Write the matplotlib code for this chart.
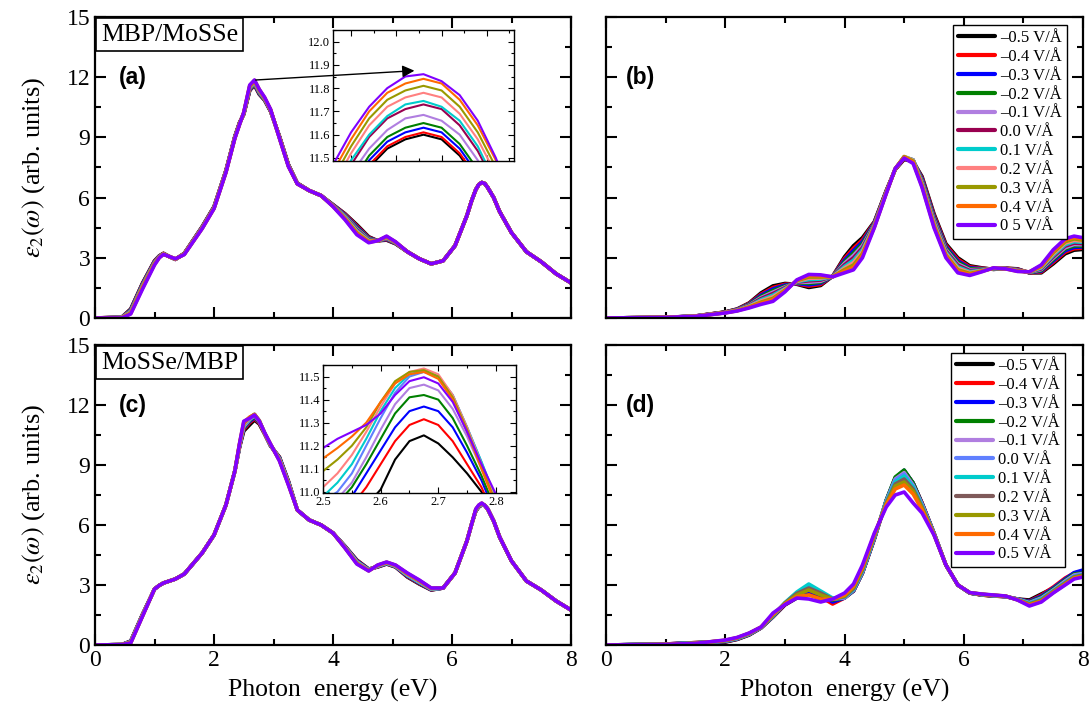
import matplotlib

matplotlib.use("Agg")
import matplotlib.pyplot as plt  # noqa: E402
import numpy as np  # noqa: E402
from matplotlib.ticker import MultipleLocator  # noqa: E402

plt.rcParams["font.family"] = ["Liberation Serif", "DejaVu Serif"]
plt.rcParams["mathtext.fontset"] = "stix"
plt.rcParams["lines.solid_joinstyle"] = "round"
plt.rcParams["lines.solid_capstyle"] = "round"

# field labels, one per curve (legend order)
labels_b = ["\u20130.5 V/\u00c5", "\u20130.4 V/\u00c5", "\u20130.3 V/\u00c5", "\u20130.2 V/\u00c5",
            "\u20130.1 V/\u00c5", "0.0 V/\u00c5", "0.1 V/\u00c5", "0.2 V/\u00c5", "0.3 V/\u00c5",
            "0.4 V/\u00c5", "0 5 V/\u00c5"]
labels_d = labels_b[:-1] + ["0.5 V/\u00c5"]

cols_b = ["#000000", "#ff0000", "#0000ff", "#008000", "#b07ee0", "#990050",
          "#00cccc", "#ff8080", "#999900", "#ff6a00", "#8000ff"]
cols_c = ["#000000", "#ff0000", "#0000ff", "#008000", "#b07ee0", "#6080ff",
          "#00cccc", "#ff8080", "#999900", "#ff6a00", "#8000ff"]
cols_d = ["#000000", "#ff0000", "#0000ff", "#008000", "#b07ee0", "#6080ff",
          "#00cccc", "#7f5a5a", "#999900", "#ff6a00", "#8000ff"]

# ---- left column (a), (c): one row per energy, one column per field ----
E_L = [0.0, 0.45, 0.6, 0.8, 1.0, 1.08, 1.15, 1.25, 1.35, 1.5, 1.8, 2.0, 2.2, 2.35, 2.43,
       2.5, 2.6, 2.68, 2.76, 2.85, 2.95, 3.1, 3.25, 3.4, 3.6, 3.8, 4.0, 4.2, 4.4, 4.6,
       4.75, 4.9, 5.05, 5.25, 5.45, 5.65, 5.85, 6.05, 6.25, 6.33, 6.4, 6.45, 6.5, 6.55,
       6.6, 6.7, 6.8, 7.0, 7.25, 7.5, 7.75, 8.0]

eps2_a = [
    [0.00, 0.00, 0.00, 0.00, 0.00, 0.00, 0.00, 0.00, 0.00, 0.00, 0.00],
    [0.04, 0.04, 0.03, 0.03, 0.03, 0.02, 0.02, 0.02, 0.01, 0.01, 0.00],
    [0.45, 0.43, 0.41, 0.39, 0.36, 0.33, 0.31, 0.28, 0.25, 0.22, 0.20],
    [1.75, 1.73, 1.71, 1.69, 1.66, 1.63, 1.60, 1.57, 1.54, 1.50, 1.45],
    [2.85, 2.84, 2.82, 2.80, 2.78, 2.76, 2.74, 2.72, 2.70, 2.67, 2.64],
    [3.10, 3.09, 3.08, 3.07, 3.06, 3.05, 3.04, 3.03, 3.02, 3.01, 3.00],
    [3.22, 3.22, 3.21, 3.21, 3.20, 3.20, 3.19, 3.19, 3.18, 3.18, 3.17],
    [3.06, 3.06, 3.06, 3.06, 3.06, 3.06, 3.06, 3.06, 3.06, 3.06, 3.06],
    [2.92, 2.92, 2.92, 2.93, 2.93, 2.93, 2.93, 2.94, 2.94, 2.94, 2.95],
    [3.22, 3.22, 3.21, 3.21, 3.20, 3.20, 3.19, 3.19, 3.18, 3.17, 3.16],
    [4.55, 4.54, 4.53, 4.52, 4.51, 4.50, 4.49, 4.48, 4.47, 4.46, 4.45],
    [5.55, 5.54, 5.53, 5.52, 5.51, 5.50, 5.49, 5.48, 5.47, 5.46, 5.45],
    [7.35, 7.34, 7.33, 7.32, 7.31, 7.30, 7.29, 7.28, 7.27, 7.26, 7.25],
    [9.05, 9.04, 9.03, 9.02, 9.01, 9.00, 8.99, 8.98, 8.97, 8.96, 8.95],
    [9.75, 9.74, 9.73, 9.72, 9.71, 9.70, 9.69, 9.68, 9.67, 9.66, 9.65],
    [10.15, 10.16, 10.17, 10.18, 10.19, 10.20, 10.21, 10.22, 10.23, 10.24, 10.25],
    [11.34, 11.35, 11.37, 11.39, 11.43, 11.47, 11.49, 11.52, 11.55, 11.58, 11.61],
    [11.60, 11.61, 11.63, 11.65, 11.69, 11.73, 11.75, 11.78, 11.81, 11.84, 11.86],
    [11.15, 11.16, 11.18, 11.20, 11.24, 11.28, 11.30, 11.33, 11.36, 11.39, 11.40],
    [10.85, 10.86, 10.87, 10.88, 10.90, 10.92, 10.93, 10.95, 10.96, 10.98, 11.00],
    [10.30, 10.31, 10.32, 10.33, 10.34, 10.35, 10.36, 10.37, 10.38, 10.39, 10.40],
    [9.05, 9.04, 9.03, 9.02, 9.01, 9.00, 8.99, 8.98, 8.97, 8.96, 8.95],
    [7.65, 7.64, 7.63, 7.62, 7.61, 7.60, 7.59, 7.58, 7.57, 7.56, 7.55],
    [6.72, 6.72, 6.71, 6.71, 6.70, 6.70, 6.70, 6.69, 6.69, 6.68, 6.68],
    [6.35, 6.35, 6.35, 6.35, 6.35, 6.35, 6.35, 6.35, 6.35, 6.35, 6.35],
    [6.10, 6.10, 6.10, 6.10, 6.10, 6.10, 6.10, 6.10, 6.10, 6.10, 6.10],
    [5.65, 5.64, 5.63, 5.62, 5.61, 5.60, 5.59, 5.58, 5.57, 5.56, 5.55],
    [5.20, 5.18, 5.15, 5.12, 5.10, 5.07, 5.04, 5.00, 4.97, 4.93, 4.90],
    [4.65, 4.60, 4.55, 4.50, 4.45, 4.40, 4.35, 4.30, 4.25, 4.20, 4.15],
    [4.05, 4.02, 3.99, 3.96, 3.93, 3.90, 3.87, 3.84, 3.81, 3.78, 3.75],
    [3.85, 3.85, 3.85, 3.85, 3.85, 3.85, 3.85, 3.85, 3.85, 3.85, 3.85],
    [3.88, 3.90, 3.92, 3.94, 3.96, 3.98, 4.00, 4.02, 4.04, 4.06, 4.08],
    [3.70, 3.71, 3.72, 3.73, 3.74, 3.75, 3.76, 3.77, 3.78, 3.79, 3.80],
    [3.30, 3.30, 3.30, 3.30, 3.30, 3.30, 3.30, 3.30, 3.30, 3.30, 3.30],
    [2.95, 2.95, 2.95, 2.95, 2.95, 2.95, 2.95, 2.95, 2.95, 2.95, 2.95],
    [2.70, 2.70, 2.70, 2.70, 2.70, 2.70, 2.70, 2.70, 2.70, 2.70, 2.70],
    [2.85, 2.85, 2.85, 2.85, 2.85, 2.85, 2.85, 2.85, 2.85, 2.85, 2.85],
    [3.60, 3.60, 3.60, 3.60, 3.60, 3.60, 3.60, 3.60, 3.60, 3.60, 3.60],
    [5.10, 5.10, 5.10, 5.10, 5.10, 5.10, 5.10, 5.10, 5.10, 5.10, 5.10],
    [5.85, 5.85, 5.85, 5.85, 5.85, 5.85, 5.85, 5.85, 5.85, 5.85, 5.85],
    [6.40, 6.40, 6.40, 6.40, 6.40, 6.40, 6.40, 6.40, 6.40, 6.40, 6.40],
    [6.65, 6.65, 6.65, 6.65, 6.65, 6.65, 6.65, 6.65, 6.65, 6.65, 6.65],
    [6.75, 6.75, 6.75, 6.75, 6.75, 6.75, 6.75, 6.75, 6.75, 6.75, 6.75],
    [6.70, 6.70, 6.70, 6.70, 6.70, 6.70, 6.70, 6.70, 6.70, 6.70, 6.70],
    [6.50, 6.50, 6.50, 6.50, 6.50, 6.50, 6.50, 6.50, 6.50, 6.50, 6.50],
    [6.00, 6.00, 6.00, 6.00, 6.00, 6.00, 6.00, 6.00, 6.00, 6.00, 6.00],
    [5.30, 5.30, 5.30, 5.30, 5.30, 5.30, 5.30, 5.30, 5.30, 5.30, 5.30],
    [4.25, 4.25, 4.25, 4.25, 4.25, 4.25, 4.25, 4.25, 4.25, 4.25, 4.25],
    [3.30, 3.30, 3.30, 3.30, 3.30, 3.30, 3.30, 3.30, 3.30, 3.30, 3.30],
    [2.80, 2.80, 2.80, 2.80, 2.80, 2.80, 2.80, 2.80, 2.80, 2.80, 2.80],
    [2.20, 2.20, 2.20, 2.20, 2.20, 2.20, 2.20, 2.20, 2.20, 2.20, 2.20],
    [1.75, 1.75, 1.75, 1.75, 1.75, 1.75, 1.75, 1.75, 1.75, 1.75, 1.75],
]

eps2_c = [
    [0.00, 0.00, 0.00, 0.00, 0.00, 0.00, 0.00, 0.00, 0.00, 0.00, 0.00],
    [0.02, 0.02, 0.02, 0.02, 0.02, 0.02, 0.02, 0.02, 0.02, 0.02, 0.02],
    [0.20, 0.19, 0.18, 0.17, 0.16, 0.15, 0.14, 0.13, 0.12, 0.11, 0.10],
    [1.55, 1.54, 1.53, 1.52, 1.51, 1.50, 1.49, 1.48, 1.47, 1.46, 1.45],
    [2.80, 2.80, 2.80, 2.80, 2.80, 2.80, 2.80, 2.80, 2.80, 2.80, 2.80],
    [2.98, 2.98, 2.98, 2.98, 2.98, 2.98, 2.98, 2.98, 2.98, 2.98, 2.98],
    [3.10, 3.10, 3.10, 3.10, 3.10, 3.10, 3.10, 3.10, 3.10, 3.10, 3.10],
    [3.20, 3.20, 3.20, 3.20, 3.20, 3.20, 3.20, 3.20, 3.20, 3.20, 3.20],
    [3.30, 3.30, 3.30, 3.30, 3.30, 3.30, 3.30, 3.30, 3.30, 3.30, 3.30],
    [3.55, 3.55, 3.55, 3.55, 3.55, 3.55, 3.55, 3.55, 3.55, 3.55, 3.55],
    [4.60, 4.60, 4.60, 4.60, 4.60, 4.60, 4.60, 4.60, 4.60, 4.60, 4.60],
    [5.50, 5.50, 5.50, 5.50, 5.50, 5.50, 5.50, 5.50, 5.50, 5.50, 5.50],
    [7.00, 7.00, 7.00, 7.00, 7.00, 7.00, 7.00, 7.00, 7.00, 7.00, 7.00],
    [8.70, 8.70, 8.70, 8.70, 8.70, 8.70, 8.70, 8.70, 8.70, 8.70, 8.70],
    [9.90, 9.92, 9.94, 9.96, 9.98, 10.00, 10.02, 10.04, 10.06, 10.08, 10.10],
    [10.70, 10.78, 10.84, 10.88, 10.92, 10.96, 10.98, 11.02, 11.09, 11.15, 11.19],
    [11.01, 11.12, 11.18, 11.23, 11.27, 11.32, 11.35, 11.37, 11.39, 11.39, 11.34],
    [11.25, 11.32, 11.37, 11.42, 11.47, 11.52, 11.53, 11.54, 11.53, 11.52, 11.50],
    [11.05, 11.08, 11.12, 11.15, 11.18, 11.22, 11.22, 11.22, 11.21, 11.20, 11.20],
    [10.55, 10.56, 10.57, 10.58, 10.60, 10.60, 10.60, 10.60, 10.60, 10.60, 10.62],
    [9.95, 9.96, 9.97, 9.98, 9.99, 10.00, 10.01, 10.02, 10.03, 10.04, 10.05],
    [9.40, 9.38, 9.36, 9.34, 9.32, 9.30, 9.28, 9.26, 9.24, 9.22, 9.20],
    [8.20, 8.18, 8.16, 8.14, 8.12, 8.10, 8.08, 8.06, 8.04, 8.02, 8.00],
    [6.75, 6.75, 6.75, 6.75, 6.75, 6.75, 6.75, 6.75, 6.75, 6.75, 6.75],
    [6.25, 6.25, 6.25, 6.25, 6.25, 6.25, 6.25, 6.25, 6.25, 6.25, 6.25],
    [6.00, 6.00, 6.00, 6.00, 6.00, 6.00, 6.00, 6.00, 6.00, 6.00, 6.00],
    [5.60, 5.60, 5.60, 5.60, 5.60, 5.60, 5.60, 5.60, 5.60, 5.60, 5.60],
    [4.95, 4.94, 4.93, 4.92, 4.91, 4.90, 4.89, 4.88, 4.87, 4.86, 4.85],
    [4.25, 4.23, 4.21, 4.19, 4.17, 4.15, 4.13, 4.11, 4.09, 4.07, 4.05],
    [3.80, 3.79, 3.78, 3.77, 3.76, 3.75, 3.74, 3.73, 3.72, 3.71, 3.70],
    [3.90, 3.91, 3.92, 3.93, 3.94, 3.95, 3.96, 3.97, 3.98, 3.99, 4.00],
    [4.05, 4.06, 4.07, 4.08, 4.09, 4.10, 4.11, 4.12, 4.13, 4.14, 4.15],
    [3.90, 3.91, 3.92, 3.93, 3.94, 3.95, 3.96, 3.97, 3.98, 3.99, 4.00],
    [3.40, 3.42, 3.44, 3.46, 3.48, 3.50, 3.52, 3.54, 3.56, 3.58, 3.60],
    [3.05, 3.07, 3.09, 3.11, 3.13, 3.15, 3.17, 3.19, 3.21, 3.23, 3.25],
    [2.75, 2.76, 2.77, 2.78, 2.79, 2.80, 2.81, 2.82, 2.83, 2.84, 2.85],
    [2.85, 2.85, 2.85, 2.85, 2.85, 2.85, 2.85, 2.85, 2.85, 2.85, 2.85],
    [3.60, 3.60, 3.60, 3.60, 3.60, 3.60, 3.60, 3.60, 3.60, 3.60, 3.60],
    [5.20, 5.20, 5.20, 5.20, 5.20, 5.20, 5.20, 5.20, 5.20, 5.20, 5.20],
    [6.05, 6.05, 6.05, 6.05, 6.05, 6.05, 6.05, 6.05, 6.05, 6.05, 6.05],
    [6.70, 6.71, 6.72, 6.73, 6.74, 6.75, 6.76, 6.77, 6.78, 6.79, 6.80],
    [6.90, 6.91, 6.92, 6.93, 6.94, 6.95, 6.96, 6.97, 6.98, 6.99, 7.00],
    [7.00, 7.01, 7.02, 7.03, 7.04, 7.05, 7.06, 7.07, 7.08, 7.09, 7.10],
    [6.98, 6.98, 6.98, 6.98, 6.98, 6.98, 6.98, 6.98, 6.98, 6.98, 6.98],
    [6.80, 6.80, 6.80, 6.80, 6.80, 6.80, 6.80, 6.80, 6.80, 6.80, 6.80],
    [6.20, 6.20, 6.20, 6.20, 6.20, 6.20, 6.20, 6.20, 6.20, 6.20, 6.20],
    [5.40, 5.40, 5.40, 5.40, 5.40, 5.40, 5.40, 5.40, 5.40, 5.40, 5.40],
    [4.20, 4.20, 4.20, 4.20, 4.20, 4.20, 4.20, 4.20, 4.20, 4.20, 4.20],
    [3.20, 3.20, 3.20, 3.20, 3.20, 3.20, 3.20, 3.20, 3.20, 3.20, 3.20],
    [2.75, 2.75, 2.75, 2.75, 2.75, 2.75, 2.75, 2.75, 2.75, 2.75, 2.75],
    [2.20, 2.20, 2.20, 2.20, 2.20, 2.20, 2.20, 2.20, 2.20, 2.20, 2.20],
    [1.75, 1.75, 1.75, 1.75, 1.75, 1.75, 1.75, 1.75, 1.75, 1.75, 1.75],
]

# ---- right column (b), (d): one row per energy, one column per field ----
E_R = [0.0, 1.0, 1.5, 2.0, 2.2, 2.4, 2.6, 2.8, 3.0, 3.2, 3.4, 3.6, 3.8, 4.0, 4.15, 4.3,
       4.5, 4.7, 4.85, 5.0, 5.15, 5.3, 5.5, 5.7, 5.9, 6.1, 6.3, 6.5, 6.7, 6.9, 7.1, 7.3,
       7.5, 7.7, 7.85, 8.0]

eps2_b = [
    [0.00, 0.00, 0.00, 0.00, 0.00, 0.00, 0.00, 0.00, 0.00, 0.00, 0.00],
    [0.03, 0.03, 0.03, 0.03, 0.03, 0.03, 0.03, 0.03, 0.03, 0.03, 0.03],
    [0.10, 0.10, 0.10, 0.09, 0.09, 0.09, 0.09, 0.09, 0.08, 0.08, 0.08],
    [0.30, 0.30, 0.29, 0.29, 0.28, 0.28, 0.27, 0.27, 0.26, 0.26, 0.25],
    [0.45, 0.44, 0.43, 0.42, 0.41, 0.40, 0.39, 0.38, 0.37, 0.36, 0.35],
    [0.75, 0.73, 0.70, 0.68, 0.65, 0.63, 0.60, 0.58, 0.55, 0.53, 0.50],
    [1.25, 1.19, 1.14, 1.08, 1.02, 0.97, 0.91, 0.85, 0.79, 0.74, 0.68],
    [1.60, 1.52, 1.45, 1.37, 1.29, 1.22, 1.14, 1.06, 0.98, 0.91, 0.83],
    [1.72, 1.68, 1.64, 1.59, 1.55, 1.51, 1.47, 1.43, 1.38, 1.34, 1.30],
    [1.68, 1.70, 1.72, 1.75, 1.77, 1.79, 1.81, 1.83, 1.86, 1.88, 1.90],
    [1.52, 1.59, 1.65, 1.72, 1.78, 1.85, 1.91, 1.98, 2.04, 2.11, 2.17],
    [1.62, 1.67, 1.73, 1.78, 1.83, 1.89, 1.94, 1.99, 2.04, 2.10, 2.15],
    [2.08, 2.08, 2.07, 2.07, 2.07, 2.07, 2.06, 2.06, 2.06, 2.05, 2.05],
    [3.05, 2.97, 2.89, 2.81, 2.73, 2.65, 2.57, 2.49, 2.41, 2.33, 2.25],
    [3.60, 3.48, 3.36, 3.24, 3.12, 3.00, 2.88, 2.76, 2.64, 2.52, 2.40],
    [4.00, 3.90, 3.80, 3.70, 3.60, 3.50, 3.40, 3.30, 3.20, 3.10, 3.00],
    [4.80, 4.77, 4.74, 4.71, 4.68, 4.65, 4.62, 4.59, 4.56, 4.53, 4.50],
    [6.35, 6.34, 6.32, 6.31, 6.29, 6.28, 6.26, 6.25, 6.23, 6.22, 6.20],
    [7.40, 7.40, 7.41, 7.42, 7.42, 7.43, 7.43, 7.43, 7.44, 7.44, 7.45],
    [7.90, 7.93, 7.96, 7.98, 8.00, 8.02, 8.04, 8.05, 8.04, 8.01, 7.97],
    [7.80, 7.82, 7.84, 7.86, 7.87, 7.88, 7.88, 7.86, 7.82, 7.76, 7.70],
    [7.05, 6.99, 6.94, 6.88, 6.83, 6.78, 6.72, 6.66, 6.61, 6.55, 6.50],
    [5.20, 5.13, 5.06, 4.99, 4.92, 4.85, 4.78, 4.71, 4.64, 4.57, 4.50],
    [3.70, 3.63, 3.56, 3.49, 3.42, 3.35, 3.28, 3.21, 3.14, 3.07, 3.00],
    [3.00, 2.93, 2.85, 2.78, 2.70, 2.63, 2.55, 2.48, 2.40, 2.33, 2.25],
    [2.60, 2.55, 2.50, 2.46, 2.41, 2.36, 2.31, 2.26, 2.22, 2.17, 2.12],
    [2.50, 2.48, 2.46, 2.44, 2.42, 2.40, 2.38, 2.36, 2.34, 2.32, 2.30],
    [2.42, 2.43, 2.44, 2.44, 2.45, 2.46, 2.47, 2.48, 2.48, 2.49, 2.50],
    [2.48, 2.48, 2.47, 2.47, 2.47, 2.47, 2.46, 2.46, 2.46, 2.45, 2.45],
    [2.45, 2.44, 2.42, 2.41, 2.40, 2.39, 2.37, 2.36, 2.35, 2.33, 2.32],
    [2.25, 2.25, 2.26, 2.26, 2.27, 2.28, 2.28, 2.29, 2.29, 2.30, 2.30],
    [2.25, 2.29, 2.33, 2.37, 2.41, 2.45, 2.49, 2.53, 2.57, 2.61, 2.65],
    [2.70, 2.77, 2.84, 2.91, 2.98, 3.05, 3.12, 3.19, 3.26, 3.33, 3.40],
    [3.20, 3.28, 3.35, 3.43, 3.50, 3.58, 3.65, 3.73, 3.80, 3.88, 3.95],
    [3.38, 3.45, 3.52, 3.59, 3.66, 3.73, 3.80, 3.87, 3.94, 4.01, 4.08],
    [3.42, 3.48, 3.54, 3.59, 3.65, 3.71, 3.77, 3.83, 3.88, 3.94, 4.00],
]

eps2_d = [
    [0.00, 0.00, 0.00, 0.00, 0.00, 0.00, 0.00, 0.00, 0.00, 0.00, 0.00],
    [0.05, 0.05, 0.05, 0.04, 0.04, 0.04, 0.04, 0.04, 0.03, 0.03, 0.03],
    [0.12, 0.12, 0.11, 0.11, 0.10, 0.10, 0.10, 0.09, 0.09, 0.08, 0.08],
    [0.15, 0.16, 0.17, 0.18, 0.19, 0.20, 0.21, 0.22, 0.23, 0.24, 0.25],
    [0.28, 0.29, 0.30, 0.31, 0.32, 0.33, 0.34, 0.35, 0.36, 0.37, 0.38],
    [0.50, 0.51, 0.52, 0.53, 0.54, 0.55, 0.56, 0.57, 0.58, 0.59, 0.60],
    [0.85, 0.86, 0.86, 0.87, 0.87, 0.88, 0.88, 0.89, 0.89, 0.90, 0.90],
    [1.40, 1.41, 1.42, 1.43, 1.44, 1.45, 1.46, 1.48, 1.50, 1.54, 1.60],
    [2.00, 2.02, 2.04, 2.06, 2.08, 2.10, 2.12, 2.10, 2.08, 2.05, 2.02],
    [2.35, 2.40, 2.45, 2.50, 2.55, 2.60, 2.65, 2.58, 2.50, 2.42, 2.35],
    [2.55, 2.60, 2.70, 2.80, 2.85, 2.95, 3.05, 2.85, 2.75, 2.50, 2.30],
    [2.45, 2.40, 2.50, 2.55, 2.60, 2.65, 2.70, 2.60, 2.50, 2.30, 2.15],
    [2.30, 2.05, 2.15, 2.25, 2.30, 2.30, 2.35, 2.30, 2.30, 2.28, 2.30],
    [2.40, 2.35, 2.35, 2.35, 2.35, 2.38, 2.40, 2.42, 2.45, 2.50, 2.60],
    [2.70, 2.70, 2.70, 2.72, 2.74, 2.76, 2.78, 2.82, 2.88, 2.95, 3.05],
    [3.60, 3.60, 3.60, 3.62, 3.64, 3.66, 3.70, 3.75, 3.80, 3.88, 4.00],
    [5.30, 5.30, 5.32, 5.34, 5.36, 5.38, 5.40, 5.44, 5.48, 5.54, 5.60],
    [7.20, 7.22, 7.24, 7.25, 7.20, 7.18, 7.15, 7.10, 7.05, 7.00, 6.90],
    [8.30, 8.33, 8.36, 8.40, 8.30, 8.25, 8.15, 8.05, 7.95, 7.80, 7.50],
    [8.70, 8.72, 8.74, 8.75, 8.62, 8.55, 8.45, 8.30, 8.15, 8.00, 7.65],
    [8.10, 8.10, 8.10, 8.10, 8.00, 7.95, 7.90, 7.80, 7.70, 7.55, 7.10],
    [7.10, 7.10, 7.08, 7.06, 7.04, 7.00, 6.95, 6.90, 6.85, 6.75, 6.60],
    [5.60, 5.60, 5.60, 5.58, 5.58, 5.57, 5.56, 5.55, 5.54, 5.52, 5.50],
    [4.00, 4.00, 4.00, 4.00, 4.00, 4.00, 4.00, 4.00, 4.00, 4.00, 4.00],
    [3.00, 3.00, 3.00, 3.00, 3.00, 3.00, 3.00, 3.00, 3.00, 3.00, 3.00],
    [2.60, 2.60, 2.60, 2.60, 2.61, 2.61, 2.61, 2.61, 2.62, 2.62, 2.62],
    [2.50, 2.50, 2.51, 2.51, 2.52, 2.52, 2.53, 2.53, 2.54, 2.54, 2.55],
    [2.45, 2.45, 2.46, 2.46, 2.47, 2.47, 2.48, 2.48, 2.49, 2.49, 2.50],
    [2.42, 2.42, 2.42, 2.43, 2.43, 2.43, 2.44, 2.44, 2.44, 2.45, 2.45],
    [2.30, 2.30, 2.30, 2.29, 2.29, 2.28, 2.28, 2.27, 2.26, 2.26, 2.25],
    [2.25, 2.20, 2.18, 2.15, 2.12, 2.10, 2.08, 2.05, 2.02, 2.00, 1.95],
    [2.55, 2.50, 2.45, 2.40, 2.35, 2.32, 2.28, 2.25, 2.22, 2.18, 2.15],
    [2.85, 2.90, 2.85, 2.80, 2.75, 2.72, 2.70, 2.68, 2.65, 2.62, 2.60],
    [3.20, 3.35, 3.30, 3.25, 3.20, 3.15, 3.12, 3.10, 3.07, 3.03, 3.00],
    [3.50, 3.60, 3.62, 3.55, 3.50, 3.46, 3.42, 3.40, 3.37, 3.34, 3.30],
    [3.65, 3.70, 3.75, 3.60, 3.58, 3.55, 3.52, 3.50, 3.46, 3.43, 3.40],
]

# ---- insets: one row per field ----
E_ins_a = [2.58, 2.60, 2.62, 2.64, 2.66, 2.68, 2.70, 2.72, 2.74, 2.76, 2.78]
ins_a = [
    [11.20, 11.34, 11.46, 11.54, 11.58, 11.60, 11.58, 11.51, 11.40, 11.25, 11.05],
    [11.21, 11.35, 11.47, 11.55, 11.59, 11.61, 11.59, 11.52, 11.41, 11.26, 11.06],
    [11.23, 11.37, 11.49, 11.57, 11.61, 11.63, 11.61, 11.54, 11.43, 11.28, 11.08],
    [11.25, 11.39, 11.51, 11.59, 11.63, 11.65, 11.63, 11.56, 11.45, 11.30, 11.10],
    [11.29, 11.43, 11.54, 11.62, 11.67, 11.685, 11.66, 11.60, 11.49, 11.33, 11.14],
    [11.33, 11.47, 11.59, 11.67, 11.71, 11.73, 11.71, 11.64, 11.53, 11.38, 11.18],
    [11.35, 11.49, 11.60, 11.68, 11.73, 11.745, 11.72, 11.66, 11.55, 11.39, 11.20],
    [11.38, 11.52, 11.64, 11.72, 11.76, 11.78, 11.76, 11.69, 11.58, 11.43, 11.23],
    [11.41, 11.55, 11.67, 11.75, 11.79, 11.81, 11.79, 11.72, 11.61, 11.46, 11.26],
    [11.44, 11.58, 11.70, 11.78, 11.82, 11.84, 11.82, 11.75, 11.64, 11.49, 11.29],
    [11.47, 11.61, 11.72, 11.80, 11.85, 11.86, 11.83, 11.77, 11.66, 11.50, 11.30],
]

E_ins_c = [2.50, 2.525, 2.55, 2.575, 2.60, 2.625, 2.65, 2.675, 2.70, 2.725, 2.75, 2.775, 2.80, 2.83]
ins_c = [
    [10.70, 10.78, 10.86, 10.94, 11.01, 11.14, 11.22, 11.245, 11.21, 11.15, 11.08, 11.00, 10.88, 10.72],
    [10.78, 10.86, 10.94, 11.02, 11.12, 11.22, 11.29, 11.315, 11.29, 11.22, 11.12, 11.02, 10.88, 10.70],
    [10.84, 10.92, 10.98, 11.08, 11.18, 11.28, 11.35, 11.37, 11.35, 11.28, 11.17, 11.05, 10.90, 10.70],
    [10.88, 10.95, 11.02, 11.12, 11.23, 11.34, 11.41, 11.42, 11.40, 11.32, 11.20, 11.07, 10.92, 10.70],
    [10.92, 10.97, 11.04, 11.15, 11.27, 11.38, 11.45, 11.465, 11.44, 11.36, 11.24, 11.10, 10.95, 10.72],
    [10.96, 11.00, 11.08, 11.20, 11.32, 11.43, 11.50, 11.52, 11.50, 11.42, 11.28, 11.13, 10.97, 10.73],
    [10.98, 11.04, 11.12, 11.23, 11.35, 11.45, 11.51, 11.525, 11.50, 11.42, 11.28, 11.13, 10.97, 10.73],
    [11.02, 11.08, 11.16, 11.26, 11.37, 11.47, 11.52, 11.535, 11.51, 11.42, 11.28, 11.12, 10.96, 10.72],
    [11.09, 11.14, 11.20, 11.28, 11.39, 11.48, 11.52, 11.528, 11.50, 11.41, 11.27, 11.11, 10.95, 10.71],
    [11.145, 11.19, 11.24, 11.30, 11.39, 11.47, 11.51, 11.52, 11.49, 11.40, 11.26, 11.10, 10.94, 10.70],
    [11.19, 11.23, 11.26, 11.29, 11.34, 11.42, 11.48, 11.497, 11.47, 11.39, 11.26, 11.12, 10.99, 10.75],
]


def style_main(ax, left_labels, bottom_labels):
    ax.set_xlim(0, 8)
    ax.set_ylim(0, 15)
    ax.xaxis.set_major_locator(MultipleLocator(2))
    ax.xaxis.set_minor_locator(MultipleLocator(1))
    ax.yaxis.set_major_locator(MultipleLocator(3))
    ax.yaxis.set_minor_locator(MultipleLocator(1.5))
    ax.tick_params(which="both", direction="in", top=True, right=True, width=1.5,
                   labelsize=17, labelleft=left_labels, labelbottom=bottom_labels)
    ax.tick_params(which="major", length=8)
    ax.tick_params(which="minor", length=4)
    for s in ax.spines.values():
        s.set_linewidth(1.6)


def style_inset(ax):
    ax.tick_params(which="both", direction="in", top=True, right=True, width=0.8,
                   labelsize=9, pad=2)
    ax.tick_params(which="major", length=4)
    ax.tick_params(which="minor", length=2)
    for s in ax.spines.values():
        s.set_linewidth(1.0)


def draw(ax, energy, table, colors, labels=None, lw=2.6):
    t = np.array(table)
    for i, c in enumerate(colors):
        ax.plot(energy, t[:, i], color=c, lw=lw,
                label=None if labels is None else labels[i])


fig = plt.figure(figsize=(10.91, 7.17), dpi=100)
ax_a = fig.add_axes([0.0871, 0.5565, 0.4363, 0.4198])
ax_b = fig.add_axes([0.5555, 0.5565, 0.4372, 0.4198])
ax_c = fig.add_axes([0.0871, 0.1004, 0.4363, 0.4184])
ax_d = fig.add_axes([0.5555, 0.1004, 0.4372, 0.4184])

draw(ax_a, E_L, eps2_a, cols_b)
draw(ax_b, E_R, eps2_b, cols_b, labels_b)
draw(ax_c, E_L, eps2_c, cols_c)
draw(ax_d, E_R, eps2_d, cols_d, labels_d)

style_main(ax_a, True, False)
style_main(ax_b, False, False)
style_main(ax_c, True, True)
style_main(ax_d, False, True)

ylab = r"$\varepsilon_2(\omega)$ (arb. units)"
ax_a.set_ylabel(ylab, fontsize=19, labelpad=14)
ax_c.set_ylabel(ylab, fontsize=19, labelpad=14)
ax_c.set_xlabel("Photon  energy (eV)", fontsize=18.5, labelpad=6)
ax_d.set_xlabel("Photon  energy (eV)", fontsize=18.5, labelpad=6)

box = dict(boxstyle="square,pad=0.2", fc="white", ec="black", lw=1.2)
ax_a.text(0.013, 0.978, "MBP/MoSSe", transform=ax_a.transAxes, ha="left", va="top",
          fontsize=18.5, bbox=box, zorder=5)
ax_c.text(0.013, 0.978, "MoSSe/MBP", transform=ax_c.transAxes, ha="left", va="top",
          fontsize=18.5, bbox=box, zorder=5)
for ax, tag in [(ax_a, "(a)"), (ax_b, "(b)"), (ax_c, "(c)"), (ax_d, "(d)")]:
    ax.text(0.08 if ax in (ax_a, ax_c) else 0.072, 0.80, tag, transform=ax.transAxes,
            ha="center", va="center", fontsize=16.5, fontweight="bold",
            family="Liberation Sans")

for ax, anchor in [(ax_b, (0.966, 0.973)), (ax_d, (0.962, 0.973))]:
    leg = ax.legend(loc="upper right", bbox_to_anchor=anchor, borderaxespad=0,
                    fontsize=12, handlelength=2.2, handletextpad=0.3, labelspacing=0.17,
                    borderpad=0.3, fancybox=False, edgecolor="black", framealpha=1)
    leg.get_frame().set_linewidth(1.0)
    for h in leg.get_lines():
        h.set_linewidth(3)

# inset (a)
ins1 = fig.add_axes([0.3052, 0.7755, 0.1659, 0.1827])
for row, c in zip(ins_a, cols_b):
    ins1.plot(E_ins_a, row, color=c, lw=1.5)
ins1.set_xlim(2.58, 2.78)
ins1.set_ylim(11.487, 12.05)
ins1.xaxis.set_major_locator(MultipleLocator(0.05))
ins1.xaxis.set_minor_locator(MultipleLocator(0.025))
ins1.yaxis.set_major_locator(MultipleLocator(0.1))
ins1.yaxis.set_minor_locator(MultipleLocator(0.05))
style_inset(ins1)
ins1.tick_params(labelbottom=False)
ins1.annotate("", xy=(2.67, 11.875), xycoords="data", xytext=(2.70, 11.86),
              textcoords=ax_a.transData, annotation_clip=False,
              arrowprops=dict(arrowstyle="-|>", color="black", lw=1.0,
                              mutation_scale=18, shrinkA=0, shrinkB=0))

# inset (c)
ins2 = fig.add_axes([0.2961, 0.3124, 0.1769, 0.1785])
for row, c in zip(ins_c, cols_c):
    ins2.plot(E_ins_c, row, color=c, lw=1.5)
ins2.set_xlim(2.5, 2.835)
ins2.set_ylim(10.995, 11.55)
ins2.xaxis.set_major_locator(MultipleLocator(0.1))
ins2.xaxis.set_minor_locator(MultipleLocator(0.05))
ins2.yaxis.set_major_locator(MultipleLocator(0.1))
ins2.yaxis.set_minor_locator(MultipleLocator(0.05))
style_inset(ins2)

fig.savefig("out.png", dpi=100)
